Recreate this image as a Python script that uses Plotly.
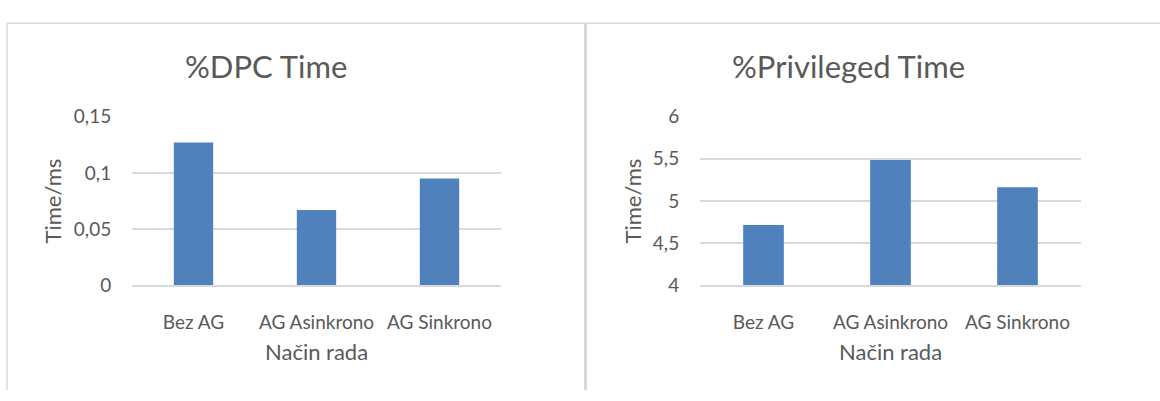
import plotly.graph_objects as go

W, H = 1160, 401

categories = ["Bez AG", "AG Asinkrono", "AG Sinkrono"]
dpc_values = [0.127, 0.067, 0.095]
priv_values = [4.715, 5.486, 5.162]
titles = ["%DPC Time", "%Privileged Time"]
y_title = "Time/ms"
x_title = "Način rada"
dpc_ticks = [0, 0.05, 0.1, 0.15]
dpc_ticktext = ["0", "0,05", "0,1", "0,15"]
priv_ticks = [4, 4.5, 5, 5.5, 6]
priv_ticktext = ["4", "4,5", "5", "5,5", "6"]

FONT = "Lato, 'Open Sans', sans-serif"
TXT = "#595959"
GRID = "#d9d9d9"
BAR = "#4f81bd"

def px_x(x):
    return x / W

def px_y(y):
    return 1 - y / H

fig = go.Figure()
fig.add_trace(go.Bar(x=categories, y=dpc_values, marker=dict(color=BAR, line=dict(width=0)),
                     xaxis="x", yaxis="y", showlegend=False))
fig.add_trace(go.Bar(x=categories, y=priv_values, marker=dict(color=BAR, line=dict(width=0)),
                     xaxis="x2", yaxis="y2", showlegend=False))

ydom = [px_y(290), px_y(111)]
common_x = dict(showgrid=False, showline=True, linecolor=GRID, linewidth=1.5,
                ticks="outside", ticklen=19, tickcolor="rgba(0,0,0,0)",
                tickfont=dict(family=FONT, size=19, color=TXT), fixedrange=True)
common_y = dict(showgrid=True, gridcolor=GRID, gridwidth=1.5, zeroline=False,
                showline=False, ticks="outside", ticklen=16, tickcolor="rgba(0,0,0,0)",
                tickfont=dict(family=FONT, size=19, color=TXT), fixedrange=True)

fig.update_layout(
    width=W, height=H,
    margin=dict(l=0, r=0, t=0, b=0),
    paper_bgcolor="white", plot_bgcolor="white",
    bargap=0.68,
    xaxis=dict(domain=[px_x(132), px_x(501)], anchor="y", **common_x),
    yaxis=dict(domain=ydom, anchor="x", range=[0, 0.15], tickvals=dpc_ticks,
               ticktext=dpc_ticktext, **common_y),
    xaxis2=dict(domain=[px_x(700), px_x(1081)], anchor="y2", **common_x),
    yaxis2=dict(domain=ydom, anchor="x2", range=[4, 6], tickvals=priv_ticks,
                ticktext=priv_ticktext, **common_y),
)

annots = []
for i, (tx, ycx, xcx) in enumerate([(266, 52, 316), (848, 632, 890)]):
    annots.append(dict(text=titles[i], x=px_x(tx), y=px_y(57), xref="paper", yref="paper",
                       showarrow=False, xanchor="center", yanchor="middle",
                       font=dict(family=FONT, size=31, color=TXT)))
    annots.append(dict(text=y_title, x=px_x(ycx), y=px_y(201), xref="paper", yref="paper",
                       showarrow=False, xanchor="center", yanchor="middle", textangle=-90,
                       font=dict(family=FONT, size=22, color=TXT)))
    annots.append(dict(text=x_title, x=px_x(xcx), y=px_y(360), xref="paper", yref="paper",
                       showarrow=False, xanchor="center", yanchor="middle",
                       font=dict(family=FONT, size=22, color=TXT)))
fig.update_layout(annotations=annots)

shapes = [
    dict(type="line", xref="paper", yref="paper", x0=px_x(7), x1=1, y0=px_y(12), y1=px_y(12),
         line=dict(color=GRID, width=1.5)),
    dict(type="line", xref="paper", yref="paper", x0=px_x(7), x1=px_x(7), y0=px_y(12), y1=0,
         line=dict(color=GRID, width=1.5)),
    dict(type="line", xref="paper", yref="paper", x0=px_x(585.5), x1=px_x(585.5), y0=px_y(12), y1=0,
         line=dict(color=GRID, width=3)),
]
fig.update_layout(shapes=shapes)

fig.write_html("out.html", config=dict(displayModeBar=False),
               post_script="document.body.style.margin='0';document.body.style.overflow='hidden';")
